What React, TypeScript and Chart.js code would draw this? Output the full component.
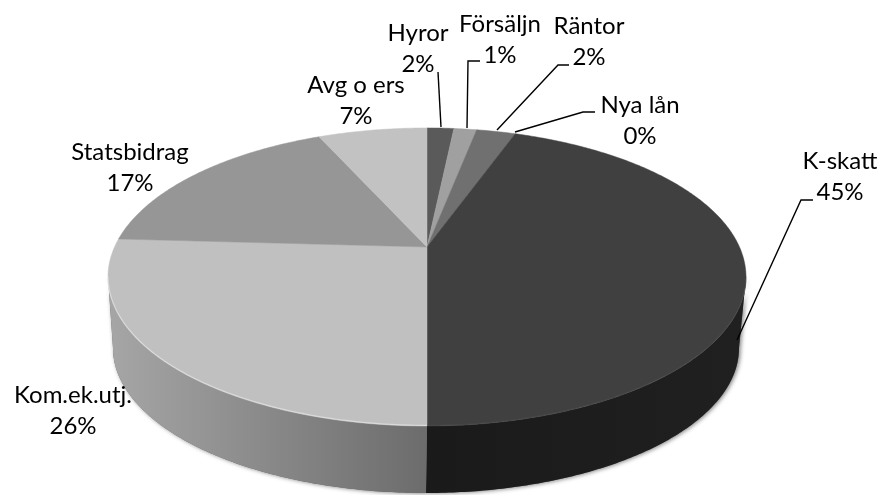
import React, { useEffect, useRef } from "react";
import { Chart, registerables } from "chart.js";

Chart.register(...registerables);

const categories = ["Hyror", "Försäljn", "Räntor", "Nya lån", "K-skatt", "Kom.ek.utj.", "Statsbidrag", "Avg o ers"];
const shares = [1.65, 1.4, 2.4, 0, 44.55, 25.9, 17.4, 6.7];
const percentLabels = ["2%", "1%", "2%", "0%", "45%", "26%", "17%", "7%"];
const faceColors = ["#5a5a5a", "#a0a0a0", "#707070", "#6a6a6a", "#404040", "#c0c0c0", "#969696", "#c2c2c2"];
const sideColorsA = ["#2c2c2c", "#505050", "#383838", "#353535", "#1a1a1a", "#a6a6a6", "#787878", "#777777"];
const sideColorsB = ["#2c2c2c", "#505050", "#383838", "#353535", "#202020", "#6c6c6c", "#787878", "#777777"];

// layout of the projected 3D disc
const APEX = { x: 427, y: 247 };
const TOP = { cx: 427, cy: 277, rx: 319, ry: 149 };
const BOTTOM = { cx: 426, cy: 348, rx: 313, ry: 145 };
const PERSPECTIVE = 0.2013;
const A = TOP.rx * Math.sqrt(1 - PERSPECTIVE * PERSPECTIVE);
const B = 143;
// angle (from the top, clockwise) at which the rim reaches its widest point
const WIDEST = Math.acos(-(TOP.cy - APEX.y) / (B + (TOP.cy - APEX.y) * PERSPECTIVE));

const labelPos: [number, number][] = [
  [418, 33], [500, 24], [589, 26], [640, 105], [840, 161], [73, 395], [130, 152], [356, 85],
];
const LINE_GAP = 31;
const leaders: [number, number][][] = [
  [[438, 72], [441, 127]],
  [[480, 61], [468, 61], [467, 128]],
  [[569, 65], [558, 65], [497, 130]],
  [[595, 112], [583, 112], [515, 132]],
  [[813, 200], [801, 200], [737, 340]],
];

function project(theta: number) {
  const u = Math.sin(theta);
  const v = Math.cos(theta);
  const w = 1 + PERSPECTIVE * v;
  return { x: APEX.x + (A * u) / w, y: APEX.y - (B * v) / w };
}

function arcPoints(a: number, b: number) {
  const n = Math.max(2, Math.ceil(Math.abs(b - a) / 0.01));
  const pts = [];
  for (let i = 0; i <= n; i++) pts.push(project(a + ((b - a) * i) / n));
  return pts;
}

function lowerPoint(p: { x: number; y: number }) {
  const phi = Math.atan2((p.x - TOP.cx) / TOP.rx, (TOP.cy - p.y) / TOP.ry);
  return { x: BOTTOM.cx + BOTTOM.rx * Math.sin(phi), y: BOTTOM.cy - BOTTOM.ry * Math.cos(phi) };
}

const disc3d = {
  id: "disc3d",
  beforeDatasetsDraw(chart: any) {
    const ctx = chart.ctx;
    const arcs = chart.getDatasetMeta(0).data;
    const slices = arcs.map((arc: any, i: number) => ({
      a: arc.startAngle + Math.PI / 2,
      b: arc.endAngle + Math.PI / 2,
      i,
    }));

    // side wall, one piece per slice that faces the viewer
    const walls: { pts: { x: number; y: number }[]; i: number; minX: number; maxX: number }[] = [];
    for (const s of slices) {
      const lo = Math.max(s.a, WIDEST);
      const hi = Math.min(s.b, Math.PI * 2 - WIDEST);
      if (hi <= lo) continue;
      const top = arcPoints(lo, hi);
      const pts = top.concat(top.map(lowerPoint).reverse());
      const xs = pts.map((p) => p.x);
      walls.push({ pts, i: s.i, minX: Math.min(...xs), maxX: Math.max(...xs) });
    }

    // soft shadow under the wall
    ctx.save();
    ctx.shadowColor = "rgba(0,0,0,0.5)";
    ctx.shadowBlur = 4;
    ctx.shadowOffsetX = 1.5;
    ctx.shadowOffsetY = 0.5;
    ctx.fillStyle = "#666";
    for (const w of walls) {
      ctx.beginPath();
      w.pts.forEach((p, k) => (k ? ctx.lineTo(p.x, p.y) : ctx.moveTo(p.x, p.y)));
      ctx.closePath();
      ctx.fill();
    }
    ctx.restore();

    for (const w of walls) {
      const grad = ctx.createLinearGradient(w.minX, 0, w.maxX, 0);
      grad.addColorStop(0, sideColorsA[w.i]);
      grad.addColorStop(1, sideColorsB[w.i]);
      ctx.fillStyle = grad;
      ctx.beginPath();
      w.pts.forEach((p, k) => (k ? ctx.lineTo(p.x, p.y) : ctx.moveTo(p.x, p.y)));
      ctx.closePath();
      ctx.fill();
    }

    // top face
    for (const s of slices) {
      if (s.b - s.a <= 0) continue;
      ctx.fillStyle = faceColors[s.i];
      ctx.strokeStyle = faceColors[s.i];
      ctx.lineWidth = 0.5;
      ctx.beginPath();
      ctx.moveTo(APEX.x, APEX.y);
      arcPoints(s.a, s.b).forEach((p) => ctx.lineTo(p.x, p.y));
      ctx.closePath();
      ctx.fill();
      ctx.stroke();
    }

    // rim highlight on the lower edge
    for (const s of slices) {
      const lo = Math.max(s.a, WIDEST);
      const hi = Math.min(s.b, Math.PI * 2 - WIDEST);
      if (hi <= lo) continue;
      const bright = faceColors[s.i] === "#c0c0c0";
      ctx.strokeStyle = bright ? "rgba(235,235,235,0.6)" : "rgba(80,80,80,0.4)";
      ctx.lineWidth = 1.2;
      ctx.beginPath();
      arcPoints(lo, hi).forEach((p, k) => (k ? ctx.lineTo(p.x, p.y - 0.7) : ctx.moveTo(p.x, p.y - 0.7)));
      ctx.stroke();
    }

    // leader lines
    ctx.strokeStyle = "#000";
    ctx.lineWidth = 1.4;
    for (const l of leaders) {
      ctx.beginPath();
      l.forEach(([x, y], k) => (k ? ctx.lineTo(x, y) : ctx.moveTo(x, y)));
      ctx.stroke();
    }

    // data labels
    ctx.fillStyle = "#000";
    ctx.font = "24px Lato";
    ctx.textAlign = "center";
    ctx.textBaseline = "middle";
    categories.forEach((c, i) => {
      const [x, y] = labelPos[i];
      ctx.fillText(c, x, y);
      ctx.fillText(percentLabels[i], x, y + LINE_GAP);
    });
    return false;
  },
};

export default function App() {
  const ref = useRef<HTMLCanvasElement>(null);
  useEffect(() => {
    const chart = new Chart(ref.current!, {
      type: "pie",
      data: {
        labels: categories,
        datasets: [{ data: shares, backgroundColor: faceColors, borderWidth: 0 }],
      },
      options: {
        animation: false,
        responsive: false,
        plugins: { legend: { display: false }, tooltip: { enabled: false } },
      },
      plugins: [disc3d],
    } as any);
    return () => chart.destroy();
  }, []);
  return (
    <div style={{ position: "absolute", left: 0, top: 0, width: 882, height: 495, background: "#fff" }}>
      <canvas ref={ref} width={882} height={495} style={{ display: "block" }} />
    </div>
  );
}
